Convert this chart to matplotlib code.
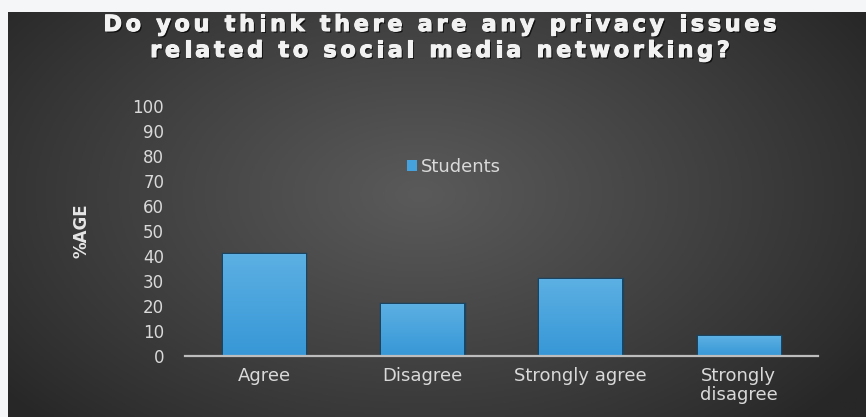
import numpy as np
import matplotlib.pyplot as plt
from matplotlib import patheffects as pe
from matplotlib.colors import LinearSegmentedColormap
from matplotlib.font_manager import FontProperties
from matplotlib.patches import Patch
from matplotlib.textpath import text_to_path

categories = ['Agree', 'Disagree', 'Strongly agree', 'Strongly\ndisagree']
students = [41, 21, 31, 8]
yticks = list(range(0, 101, 10))
title_lines = ['Do you think there are any privacy issues',
               'related to social media networking?']

W, H = 866, 417
fig = plt.figure(figsize=(W / 100, H / 100), dpi=100, facecolor='#f5f6f8')

# dark slide backdrop with a soft glow in the middle
bg = fig.add_axes([8 / W, 0, 1 - 8 / W, (H - 12) / H])
bg.set_axis_off()
yy, xx = np.mgrid[0:1:300j, 0:1:600j]
r = np.sqrt(((xx - 0.48) / 0.62) ** 2 + ((yy - 0.55) / 0.80) ** 2)
glow = np.clip(1 - r, 0, 1) ** 0.9
bg_cmap = LinearSegmentedColormap.from_list('bg', ['#272727', '#5a5a5a'])
bg.imshow(glow, cmap=bg_cmap, extent=[0, 1, 0, 1], aspect='auto',
          origin='lower', vmin=0, vmax=1)

ax = fig.add_axes([185 / W, (H - 356) / H, 633 / W, 250 / H])
ax.patch.set_visible(False)

x = np.arange(len(categories))
bars = ax.bar(x, students, width=0.52, color='#45a2dc',
              edgecolor='#1b4461', linewidth=2.5, zorder=2)

# light-to-dark blue fill inside each bar
bar_cmap = LinearSegmentedColormap.from_list('bar', ['#3797d6', '#5cb0e3'])
grad = np.linspace(0, 1, 100).reshape(-1, 1)
for b in bars:
    im = ax.imshow(grad, cmap=bar_cmap, origin='lower', aspect='auto',
                   extent=[b.get_x(), b.get_x() + b.get_width(), 0, b.get_height()],
                   zorder=2.2)
    im.set_clip_path(b)

ax.set_xlim(-0.5, 3.5)
ax.set_ylim(0, 100)
ax.set_yticks(yticks)
ax.set_xticks(x, categories)

for side in ['top', 'right', 'left']:
    ax.spines[side].set_visible(False)
ax.spines['bottom'].set_color('#bdbdbd')
ax.spines['bottom'].set_linewidth(1.6)
ax.spines['bottom'].set_zorder(3)

ax.tick_params(axis='y', length=0, pad=15, labelsize=12, labelcolor='#d9d9d9')
ax.tick_params(axis='x', length=0, pad=8, labelsize=13, labelcolor='#d9d9d9')
for t in ax.get_xticklabels():
    t.set_linespacing(1.05)

ax.set_ylabel('%AGE', fontsize=12, fontweight='bold', color='#e6e6e6')
ax.yaxis.set_label_coords(-0.15, 0.5)

ax.legend([Patch(facecolor='#45a2dc')], ['Students'], loc='center',
          bbox_to_anchor=(0.425, 0.756), frameon=False, fontsize=13,
          handlelength=0.55, handleheight=0.55, handletextpad=0.25,
          labelcolor='#d9d9d9')

# spaced-out bold title, one glyph at a time
prop = FontProperties(family='DejaVu Sans', weight='bold', size=16)


def text_w(s):
    return text_to_path.get_text_width_height_descent(s, prop, ismath=False)[0] * 100 / 72


def offsets(s):
    return [text_w(s[:i] + '|') - text_w('|') for i in range(len(s))]


line1 = offsets(title_lines[0])
track = (673 - (line1[-1] + text_w(title_lines[0][-1]))) / (len(title_lines[0]) - 1)

title_fx = [pe.withSimplePatchShadow(offset=(1.2, -1.2), shadow_rgbFace='black', alpha=0.7),
            pe.withStroke(linewidth=0.8, foreground='#f2f2f2')]

for line, base in zip(title_lines, [31, 57]):
    offs = offsets(line)
    total = offs[-1] + text_w(line[-1]) + track * (len(line) - 1)
    x0 = 440 - total / 2
    for i, ch in enumerate(line):
        if ch == ' ':
            continue
        fig.text((x0 + offs[i] + i * track) / 100, (H - base) / 100, ch,
                 fontproperties=prop, color='#f2f2f2', ha='left', va='baseline',
                 transform=fig.dpi_scale_trans, path_effects=title_fx)

fig.savefig('out.png', dpi=100, facecolor=fig.get_facecolor())
